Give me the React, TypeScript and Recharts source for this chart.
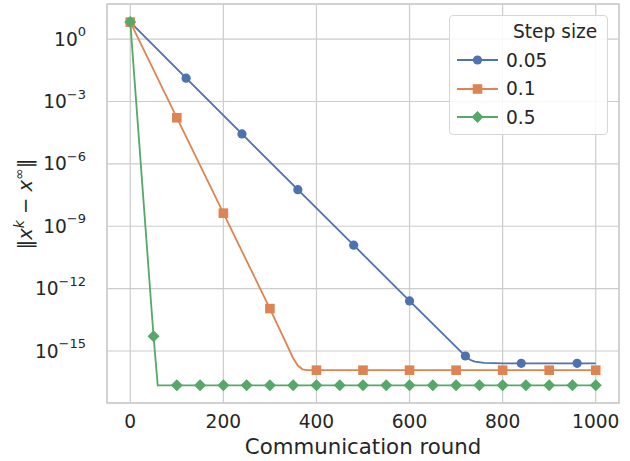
import React from "react";
import { LineChart, Line, XAxis, YAxis, CartesianGrid, ReferenceArea, Legend } from "recharts";

// communication rounds and error values (log scale)
const rounds05 = [0, 120, 240, 360, 480, 600, 720, 730, 740, 760, 800, 840, 960, 1000];
const err05 = [6.6, 1.32e-2, 2.75e-5, 5.75e-8, 1.23e-10, 2.57e-13, 5.75e-16, 3.8e-16, 3.1e-16, 2.7e-16, 2.57e-16, 2.57e-16, 2.57e-16, 2.57e-16];
const marks05 = [0, 120, 240, 360, 480, 600, 720, 840, 960];

const rounds01 = [0, 100, 200, 300, 350, 360, 370, 380, 400, 500, 600, 700, 800, 900, 1000];
const err01 = [6.6, 1.66e-4, 4.27e-9, 1.1e-13, 4.5e-16, 2.0e-16, 1.32e-16, 1.2e-16, 1.2e-16, 1.2e-16, 1.2e-16, 1.2e-16, 1.2e-16, 1.2e-16, 1.2e-16];
const marks01 = [0, 100, 200, 300, 400, 500, 600, 700, 800, 900, 1000];

const rounds05b = [0, 50, 59, 100, 150, 200, 250, 300, 350, 400, 450, 500, 550, 600, 650, 700, 750, 800, 850, 900, 950, 1000];
const err05b = [6.6, 5.1e-15, 2.24e-17, 2.24e-17, 2.24e-17, 2.24e-17, 2.24e-17, 2.24e-17, 2.24e-17, 2.24e-17, 2.24e-17, 2.24e-17, 2.24e-17, 2.24e-17, 2.24e-17, 2.24e-17, 2.24e-17, 2.24e-17, 2.24e-17, 2.24e-17, 2.24e-17, 2.24e-17];
const marks05b = [0, 50, 100, 150, 200, 250, 300, 350, 400, 450, 500, 550, 600, 650, 700, 750, 800, 850, 900, 950, 1000];

const xTicks = [0, 200, 400, 600, 800, 1000];
const yExps = [0, -3, -6, -9, -12, -15];

const stepLabels = ["0.05", "0.1", "0.5"];
const colors = ["#4c72b0", "#dd8452", "#55a868"];

const FONT = "'DejaVu Sans', sans-serif";
const TEXT = "#262626";
const GRID = "#cccccc";
const TICK_SIZE = 18.6;
const LABEL_SIZE = 21.3;

const zip = (xs: number[], ys: number[]) => xs.map((x, i) => ({ x, y: ys[i] }));

function Marker({ kind, cx, cy, color }: { kind: number; cx: number; cy: number; color: string }) {
  if (kind === 0) return <circle cx={cx} cy={cy} r={4.6} fill={color} />;
  if (kind === 1) return <rect x={cx - 4.8} y={cy - 4.8} width={9.6} height={9.6} fill={color} />;
  const d = 6;
  return <polygon points={`${cx},${cy - d} ${cx + d},${cy} ${cx},${cy + d} ${cx - d},${cy}`} fill={color} />;
}

const makeDot = (kind: number, marks: number[]) => (p: any) => {
  const key = `${kind}-${p.index}`;
  if (!marks.includes(p.payload?.x)) return <g key={key} />;
  return (
    <g key={key}>
      <Marker kind={kind} cx={p.cx} cy={p.cy} color={colors[kind]} />
    </g>
  );
};

const sup = (e: number) => (e < 0 ? "\u2212" + Math.abs(e) : String(e));

function YTick({ x, y, payload }: any) {
  const e = Math.round(Math.log10(payload.value));
  return (
    <text x={x - 13} y={y} textAnchor="end" fill={TEXT} fontFamily={FONT} fontSize={TICK_SIZE}>
      <tspan dy={6.5}>10</tspan>
      <tspan dy={-9.5} fontSize={13}>{sup(e)}</tspan>
    </text>
  );
}

function XTick({ x, y, payload }: any) {
  return (
    <text x={x} y={y + 17} textAnchor="middle" fill={TEXT} fontFamily={FONT} fontSize={TICK_SIZE}>
      {payload.value}
    </text>
  );
}

function LegendBox() {
  const rows = stepLabels.map((lab, i) => (
    <div key={lab} style={{ display: "flex", alignItems: "center", height: 28.3 }}>
      <svg width={56} height={20} style={{ display: "block" }}>
        <line x1={7} x2={48} y1={10} y2={10} stroke={colors[i]} strokeWidth={1.8} />
        <Marker kind={i} cx={27.5} cy={10} color={colors[i]} />
      </svg>
      <span>{lab}</span>
    </div>
  ));
  return (
    <div
      style={{
        position: "absolute", left: 449, top: 15, width: 159, height: 120,
        border: "1px solid #d6d6d6", borderRadius: 4, background: "rgba(255,255,255,0.85)",
        fontFamily: FONT, fontSize: TICK_SIZE, color: TEXT, boxSizing: "border-box", paddingTop: 2,
      }}
    >
      <div style={{ height: 28.3, lineHeight: "28px", paddingLeft: 63 }}>Step size</div>
      {rows}
    </div>
  );
}

export default function App() {
  const series = [zip(rounds05, err05), zip(rounds01, err01), zip(rounds05b, err05b)];
  const marks = [marks05, marks01, marks05b];
  return (
    <div style={{ position: "absolute", left: 0, top: 0, width: 630, height: 461, background: "#fff" }}>
      <LineChart width={630} height={461} margin={{ top: 4, right: 11, bottom: 0, left: 0 }}>
        <CartesianGrid stroke={GRID} strokeWidth={1.2} />
        <ReferenceArea
          x1={-50} x2={1050} y1={Math.pow(10, -17.5)} y2={Math.pow(10, 1.69)}
          fill="none" stroke={GRID} strokeWidth={1.4} ifOverflow="visible"
        />
        <XAxis
          dataKey="x" type="number" domain={[-50, 1050]} ticks={xTicks} allowDataOverflow
          axisLine={false} tickLine={false} height={58} tick={<XTick />}
          label={{
            content: () => (
              <text x={363} y={453.5} textAnchor="middle" fill={TEXT} fontFamily={FONT} fontSize={LABEL_SIZE}>
                Communication round
              </text>
            ),
          }}
        />
        <YAxis
          type="number" scale="log" domain={[Math.pow(10, -17.5), Math.pow(10, 1.69)]} allowDataOverflow
          ticks={yExps.map((e) => Math.pow(10, e))} axisLine={false} tickLine={false} width={107}
          tick={<YTick />}
          label={{
            content: () => (
              <text
                x={0} y={0} transform="translate(32,204) rotate(-90)" textAnchor="middle"
                fill={TEXT} fontFamily={FONT} fontSize={19.5}
              >
                <tspan>‖</tspan>
                <tspan fontStyle="italic">x</tspan>
                <tspan dy={-8} fontSize={14} fontStyle="italic">k</tspan>
                <tspan dy={8}> − </tspan>
                <tspan fontStyle="italic">x</tspan>
                <tspan dy={-8} fontSize={14}>∞</tspan>
                <tspan dy={8}>‖</tspan>
              </text>
            ),
          }}
        />
        {series.map((d, i) => (
          <Line
            key={stepLabels[i]} data={d} dataKey="y" type="linear" stroke={colors[i]} strokeWidth={1.8}
            dot={makeDot(i, marks[i])} activeDot={false} isAnimationActive={false}
          />
        ))}
        <Legend content={() => null} />
      </LineChart>
      <LegendBox />
    </div>
  );
}
